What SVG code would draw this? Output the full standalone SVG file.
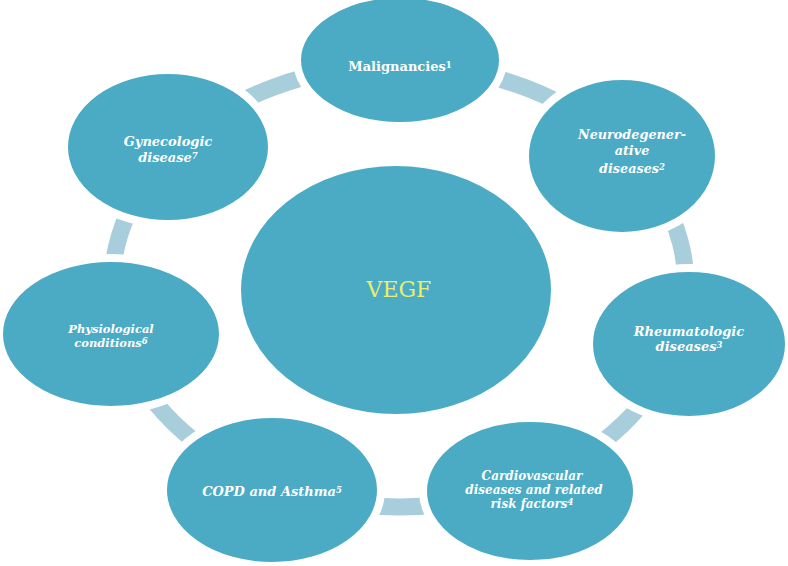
<svg xmlns="http://www.w3.org/2000/svg" width="788" height="566" viewBox="0 0 788 566">
<style>
.conn{fill:none;stroke:#a9cedb;stroke-width:17}
.node{fill:#4babc5;stroke:#ffffff;stroke-width:8}
.lbl{font-family:"DejaVu Serif","Liberation Serif",serif;font-size:13px;font-weight:bold;font-style:italic;fill:#ffffff;text-anchor:middle}
.up{font-style:normal}
.sup{font-size:8.5px;baseline-shift:3px}
.core{font-family:"DejaVu Serif","Liberation Serif",serif;font-size:22px;fill:#e6f06b;text-anchor:middle}
</style>
<rect width="788" height="566" fill="#ffffff"/>
<g id="connectors">
<path class="conn" d="M399 65 A287 221 0 0 1 627.9 152.7"/>
<path class="conn" d="M627.9 152.7 A287 221 0 0 1 677.1 340.6"/>
<path class="conn" d="M677.1 340.6 A287 221 0 0 1 525.7 484.3"/>
<path class="conn" d="M525.7 484.3 A287 221 0 0 1 275 485.3"/>
<path class="conn" d="M275 485.3 A287 221 0 0 1 118.5 332.7"/>
<path class="conn" d="M118.5 332.7 A287 221 0 0 1 172.8 149.9"/>
<path class="conn" d="M172.8 149.9 A287 221 0 0 1 399 65"/>
</g>
<g id="malignancies">
<ellipse class="node" cx="400" cy="60" rx="103" ry="66"/>
<text class="lbl up" x="400" y="71">Malignancies<tspan class="sup">1</tspan></text>
</g>
<g id="neurodegenerative">
<ellipse class="node" cx="622" cy="156" rx="97" ry="80"/>
<text class="lbl" x="632" y="139" style="font-size:12.8px">Neurodegener-</text>
<text class="lbl" x="632" y="155" style="font-size:12.8px">ative</text>
<text class="lbl" x="632" y="173" style="font-size:12.8px">diseases<tspan class="sup">2</tspan></text>
</g>
<g id="rheumatologic">
<ellipse class="node" cx="689" cy="344" rx="100" ry="76"/>
<text class="lbl" x="689" y="336">Rheumatologic</text>
<text class="lbl" x="689" y="351">diseases<tspan class="sup">3</tspan></text>
</g>
<g id="cardiovascular">
<ellipse class="node" cx="530" cy="491" rx="107" ry="73"/>
<text class="lbl" x="532" y="480" style="font-size:12px">Cardiovascular</text>
<text class="lbl" x="534" y="494" style="font-size:12px">diseases and  related</text>
<text class="lbl" x="532" y="508" style="font-size:12px">risk factors<tspan class="sup">4</tspan></text>
</g>
<g id="copd">
<ellipse class="node" cx="272" cy="490" rx="109" ry="76"/>
<text class="lbl" x="272" y="496">COPD and Asthma<tspan class="sup">5</tspan></text>
</g>
<g id="physiological">
<ellipse class="node" cx="111" cy="334" rx="112" ry="76"/>
<text class="lbl" x="111" y="333" style="font-size:11.5px">Physiological</text>
<text class="lbl" x="111" y="347" style="font-size:11.5px">conditions<tspan class="sup">6</tspan></text>
</g>
<g id="gynecologic">
<ellipse class="node" cx="168" cy="147" rx="104" ry="77"/>
<text class="lbl" x="168" y="146">Gynecologic</text>
<text class="lbl" x="168" y="162">disease<tspan class="sup">7</tspan></text>
</g>
<g id="vegf">
<ellipse class="node" cx="396" cy="290" rx="159" ry="128"/>
<text class="core" x="399" y="297">VEGF</text>
</g>
</svg>
